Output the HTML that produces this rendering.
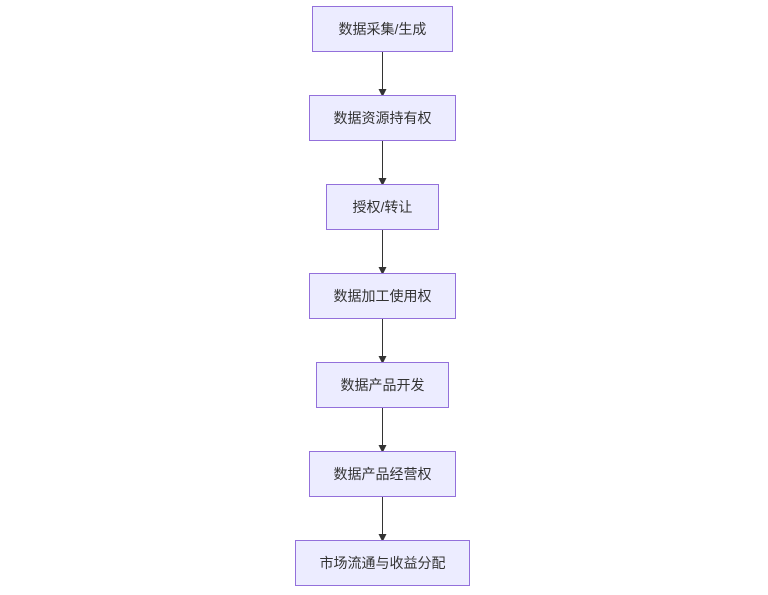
<!DOCTYPE html>
<html><head><meta charset="utf-8"><style>
body{margin:0;width:768px;height:595px;background:#fff;position:relative;overflow:hidden;font-family:"Liberation Sans","Noto Sans CJK SC",sans-serif;}
.b{position:absolute;height:44px;background:#ececff;border:1px solid #9370db;display:flex;align-items:center;justify-content:center;font-size:14px;color:#333;}
</style></head><body>
<svg width="768" height="595" style="position:absolute;left:0;top:0">
<defs><marker id="a" markerWidth="8" markerHeight="8" refX="4" refY="4" orient="auto" markerUnits="userSpaceOnUse"><path d="M0,0L8,4L0,8z" fill="#333"/></marker></defs>
<g stroke="#333" stroke-width="1" fill="none">
<line x1="382.5" y1="52" x2="382.5" y2="93" marker-end="url(#a)" />
<line x1="382.5" y1="141" x2="382.5" y2="182" marker-end="url(#a)" />
<line x1="382.5" y1="230" x2="382.5" y2="271" marker-end="url(#a)" />
<line x1="382.5" y1="319" x2="382.5" y2="360" marker-end="url(#a)" />
<line x1="382.5" y1="408" x2="382.5" y2="449" marker-end="url(#a)" />
<line x1="382.5" y1="497" x2="382.5" y2="538" marker-end="url(#a)" />
</g></svg>
<div class="b" style="left:312px;top:6px;width:139px">数据采集/生成</div>
<div class="b" style="left:309px;top:95px;width:145px">数据资源持有权</div>
<div class="b" style="left:326px;top:184px;width:111px">授权/转让</div>
<div class="b" style="left:309px;top:273px;width:145px">数据加工使用权</div>
<div class="b" style="left:316px;top:362px;width:131px">数据产品开发</div>
<div class="b" style="left:309px;top:451px;width:145px">数据产品经营权</div>
<div class="b" style="left:295px;top:540px;width:173px">市场流通与收益分配</div>
</body></html>
